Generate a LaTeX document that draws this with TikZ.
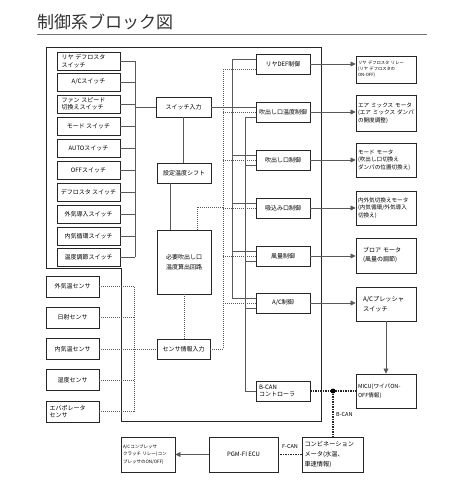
\documentclass[tikz,border=0pt]{standalone}
\usepackage{fontspec}
\newfontfamily\jp{Noto Sans CJK JP}
\usetikzlibrary{arrows.meta,calc}
\begin{document}
\begin{tikzpicture}[x=1pt,y=-1pt,
  blk/.style={draw=black!85, line width=0.9pt, fill=white, inner sep=1pt,
    font=\jp\fontsize{6}{7.5}\selectfont, align=center},
  sw/.style={blk, minimum width=63pt, minimum height=18pt},
  sens/.style={blk, minimum width=53pt, minimum height=21pt},
  ctl/.style={blk, minimum width=54pt, minimum height=20pt},
  act/.style={blk, minimum width=60pt, text width=56pt, align=left, inner sep=2pt},
  bot/.style={blk, minimum height=35pt},
  lbl/.style={font=\jp\fontsize{5.5}{6}\selectfont, inner sep=1pt},
  wire/.style={draw=black!65, line width=0.7pt},
  dwire/.style={draw=black!65, line width=0.8pt, dash pattern=on 1pt off 1pt},
  bwire/.style={draw=black!85, line width=1.4pt, dash pattern=on 1.4pt off 1.1pt},
  arr/.style={wire, -{Triangle[length=5pt,width=5pt]}},
  outer/.style={draw=black!85, line width=0.9pt}]
\useasboundingbox (0,0) rectangle (450,490);
% title
\node[anchor=base west, font=\jp\fontsize{17}{17}\selectfont, text=black!80, inner sep=0] (title) at (37,28.5) {制御系ブロック図};
\draw[black!55, line width=0.8pt] (37,34) -- (427,34);
% outer controller box
\draw[outer] (46,47) -- (321,47) -- (321,421) -- (121,421) -- (121,268) -- (46,268) -- cycle;
% bus coordinates
\coordinate (swbus) at (135,0);
\coordinate (sbus) at (134,0);
\coordinate (dA) at (223,0);
\coordinate (bA) at (232,0);
\coordinate (bB) at (245,0);
% switches
\node[sw, text width=54pt, align=left] (s1) at (88.5,61) {リヤ デフロスタ\\スイッチ};
\node[sw] (s2) at (88.5,82) {A/Cスイッチ};
\node[sw, text width=54pt, align=left] (s3) at (88.5,104) {ファン スピード\\切換えスイッチ};
\node[sw] (s4) at (88.5,126) {モード スイッチ};
\node[sw] (s5) at (88.5,148) {AUTOスイッチ};
\node[sw] (s6) at (88.5,170.5) {OFFスイッチ};
\node[sw] (s7) at (88.5,192.5) {デフロスタ スイッチ};
\node[sw] (s8) at (88.5,214) {外気導入スイッチ};
\node[sw] (s9) at (88.5,236) {内気循環スイッチ};
\node[sw] (s10) at (88.5,257) {温度調節スイッチ};
\foreach \i in {1,...,10} {\draw[wire] (s\i.east) -- (s\i.east -| swbus);}
\draw[wire] (s1.east -| swbus) -- (s10.east -| swbus);
% middle column
\node[ctl, minimum width=55pt] (sin) at (183.5,107) {スイッチ入力};
\node[ctl] (sft) at (184,173) {設定温度シフト};
\node[ctl, minimum height=64pt] (calc) at (184,262) {必要吹出し口\\[2pt]温度算出回路};
\node[ctl, minimum width=53pt] (sen) at (183.5,349) {センサ情報入力};
\draw[wire] (sin.west -| swbus) -- (sin.west);
\draw[wire] (sin.south) -- (sin.south |- sft.north);
\draw[wire] ([xshift=-14pt]sft.south) -- ([xshift=-14pt]calc.north);
\draw[dwire] (calc.south) -- (calc.south |- sen.north);
\coordinate (j1) at (223,207);
\draw[dwire] ([xshift=13pt]calc.north) |- (j1);
% sensors
\node[sens] (e1) at (72.5,286.5) {外気温センサ};
\node[sens] (e2) at (72.5,317.5) {日射センサ};
\node[sens] (e3) at (72.5,349) {内気温センサ};
\node[sens] (e4) at (72.5,380) {湿度センサ};
\node[sens, text width=46pt, align=left] (e5) at (72.5,411.5) {エバポレータ\\センサ};
\foreach \i in {1,2,4,5} {\draw[dwire] (e\i.east) -- (e\i.east -| sbus);}
\draw[dwire] (e1.east -| sbus) -- (e5.east -| sbus);
\draw[dwire] (e3.east) -- (sen.west);
\draw[dwire] (sen.east) -- (sen.east -| dA);
% controls
\node[ctl] (c1) at (283,64) {リヤDEF制御};
\node[ctl] (c2) at (283,112) {吹出し口温度制御};
\node[ctl] (c3) at (283,160) {吹出し口制御};
\node[ctl] (c4) at (283,208) {吸込み口制御};
\node[ctl] (c5) at (283,256) {風量制御};
\node[ctl] (c6) at (283,303) {A/C制御};
\node[ctl, text width=48pt, align=left] (c7) at (283,391) {B-CAN\\コントローラ};
% buses
\draw[wire] ([yshift=5pt]c1.west -| bA) -- ([yshift=5pt]c6.west -| bA);
\draw[wire] ([yshift=-5pt]c2.west -| bB) -- (c7.west -| bB);
\draw[dwire] ([yshift=-5pt]c1.west -| dA) -- (sen.east -| dA);
% inputs
\draw[wire] ([yshift=5pt]c1.west -| bA) -- ([yshift=5pt]c1.west);
\draw[dwire] ([yshift=-5pt]c1.west -| dA) -- ([yshift=-5pt]c1.west);
\draw[wire] (sin.east) -- (sin.east -| c2.west);
\foreach \i in {3,4,5,6} {\draw[wire] ([yshift=5pt]c\i.west -| bA) -- ([yshift=5pt]c\i.west);}
\foreach \i in {2,3,4,5,6} {\draw[dwire] (c\i.west -| dA) -- (c\i.west);}
\foreach \i in {2,3,5,6} {\draw[wire] ([yshift=-5pt]c\i.west -| bB) -- ([yshift=-5pt]c\i.west);}
\draw[wire] (c7.west -| bB) -- (c7.west);
% actuators
\node[act, minimum height=27pt, font=\jp\fontsize{4.3}{6}\selectfont] (a1) at (386,69.5) {リヤ デフロスタ リレー\\(リヤ デフロスタの\\ON-OFF)};
\node[act, minimum height=36pt, font=\jp\fontsize{5.6}{7.6}\selectfont] (a2) at (386,113) {エア ミックス モータ\\(エア ミックス ダンパ\\の開度調整)};
\node[act, minimum height=34pt, font=\jp\fontsize{5.6}{7.6}\selectfont] (a3) at (386,160) {モード モータ\\(吹出し口切換え\\ダンパの位置切換え)};
\node[act, minimum height=34pt, font=\jp\fontsize{5.6}{7.6}\selectfont] (a4) at (386,208) {内外気切換えモータ\\(内気循環/外気導入\\切換え)};
\node[act, minimum height=35pt, text width=46pt, font=\jp\fontsize{6}{9}\selectfont] (a5) at (386,255.5) {ブロア モータ\\(風量の調節)};
\node[act, minimum height=34pt, text width=46pt, font=\jp\fontsize{6.2}{10}\selectfont] (a6) at (386,304) {A/Cプレッシャ\\スイッチ};
\node[act, minimum height=34pt, font=\jp\fontsize{5.6}{9}\selectfont] (a7) at (386,391) {MICU(ワイパON-\\OFF情報)};
\foreach \i in {1,...,6} {\draw[arr] (c\i.east) -- (c\i.east -| a\i.west);}
\draw[arr] (a6.south) -- (a6.south |- a7.north);
% B-CAN
\draw[bwire] (c7.east) -- (c7.east -| a7.west);
\node[circle, fill=black, inner sep=0, minimum size=5pt] (dot) at ($(c7.east)!0.5!(c7.east -| a7.west)$) {};
% bottom row
\node[bot, minimum width=54pt, text width=50pt, align=left, font=\jp\fontsize{4.5}{7.5}\selectfont] (acc) at (148,454.5) {A/Cコンプレッサ\\クラッチ リレー(コン\\プレッサのON/OFF)};
\node[bot, minimum width=69pt] (pgm) at (243.5,454.5) {PGM-FI ECU};
\node[bot, minimum width=61pt, text width=56pt, align=left, font=\jp\fontsize{6.2}{10}\selectfont] (cm) at (332.5,454.5) {コンビネーション\\メータ(水温、\\車速情報)};
\draw[bwire] (dot) -- (dot |- cm.north);
\node[lbl, anchor=west] (lbB) at (335,414) {B-CAN};
\draw[arr] (pgm.west) -- (acc.east);
\draw[bwire] (cm.west) -- (pgm.east);
\node[lbl] (lbF) at (290,446) {F-CAN};
\end{tikzpicture}
\end{document}
